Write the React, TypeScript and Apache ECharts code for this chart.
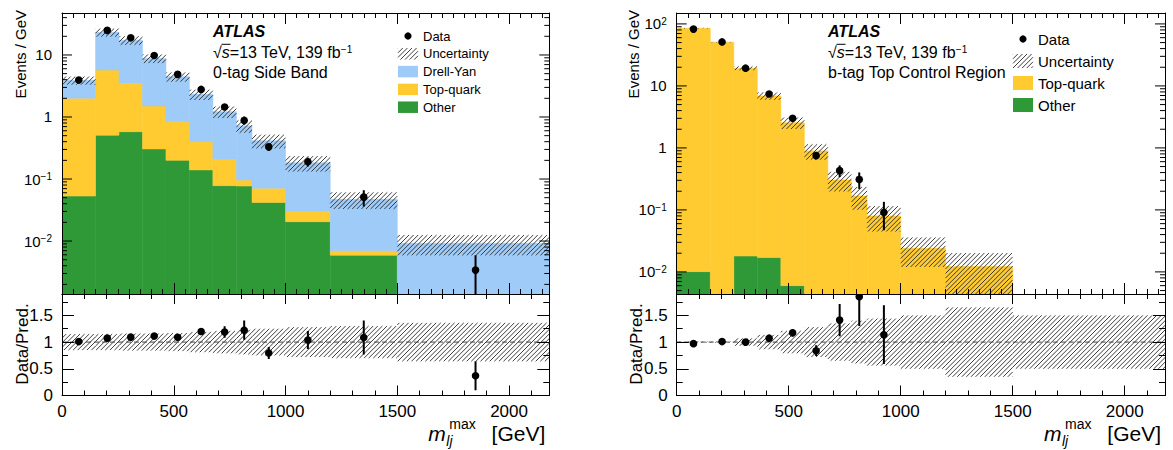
import React, { useEffect, useRef } from 'react';
import * as echarts from 'echarts';

// ---------------- data ----------------
const binEdges = [0, 150, 255, 360, 465, 570, 675, 780, 850, 1000, 1200, 1500, 2200];
const xTickLabels = ['0', '500', '1000', '1500', '2000'];
const ratioTickLabels = ['0', '0.5', '1', '1.5'];

// 0-tag Side Band (left panel), Events / GeV
const sbOther = [0.053, 0.51, 0.58, 0.305, 0.2, 0.14, 0.078, 0.077, 0.042, 0.0205, 0.0059, 0.0005];
const sbTopQuark = [1.95, 5.19, 2.92, 1.2, 0.64, 0.26, 0.132, 0.019, 0.029, 0.0095, 0.0011, 0.0003];
const sbDrellYan = [1.9, 17.5, 13.8, 7.3, 3.63, 1.92, 1.01, 0.624, 0.344, 0.153, 0.04, 0.0084];
const sbData = [3.94, 24.9, 18.9, 9.8, 4.87, 2.78, 1.45, 0.88, 0.33, 0.19, 0.051, 0.0034];
const sbDataErr = [0.08, 0.46, 0.52, 0.26, 0.18, 0.14, 0.13, 0.13, 0.046, 0.031, 0.015, 0.0025];
const sbUncert = [0.15, 0.15, 0.16, 0.16, 0.17, 0.19, 0.21, 0.23, 0.25, 0.28, 0.3, 0.36];
const sbLegend = ['Data', 'Uncertainty', 'Drell-Yan', 'Top-quark', 'Other'];

// b-tag Top Control Region (right panel), Events / GeV
const crOther = [0.0101, 0.001, 0.018, 0.017, 0.006, 0.0008, 0.0006, 0.0005, 0.0004, 0.0003, 0.0002, 0];
const crTopQuark = [85.0, 50.7, 19.3, 6.88, 2.55, 0.894, 0.304, 0.167, 0.0796, 0.0237, 0.012, 0];
const crData = [82.5, 51.2, 19.3, 7.4, 3.0, 0.75, 0.43, 0.31, 0.091, null, null, null];
const crDataErr = [0.85, 1.0, 0.58, 0.35, 0.18, 0.09, 0.092, 0.092, 0.044, 0, 0, 0];
const crUncert = [0.01, 0.01, 0.07, 0.135, 0.21, 0.28, 0.35, 0.4, 0.44, 0.5, 0.65, 0.5];
const crLegend = ['Data', 'Uncertainty', 'Top-quark', 'Other'];

// ---------------- style / layout ----------------
const FONT = '"Liberation Sans", Arial, Helvetica, sans-serif';
const C_DY = '#9ecbf7';
const C_TOP = '#ffcb30';
const C_OTHER = '#2f9938';
const X_MAX = 2180;
const MAIN_TOP = 13;
const MAIN_H = 281;
const RATIO_TOP = 294;
const RATIO_H = 101.5;
const RATIO_MAX = 1.9;

type Proc = { name: string; color: string; values: number[] };
type Panel = {
  left: number;
  width: number;
  yMin: number;
  yMax: number;
  procs: Proc[];
  data: (number | null)[];
  dataErr: number[];
  unc: number[];
  region: string;
  textX: number;
  legend: string[];
  legendColors: Record<string, string>;
  leg: { boxX: number; textX: number; y0: number; dy: number; boxH: number; font: number };
  yTitleX: number;
  ratioTitleX: number;
};

const PANELS: Panel[] = [
  {
    left: 62,
    width: 487.3,
    yMin: 0.0014,
    yMax: 47.5,
    procs: [
      { name: 'Other', color: C_OTHER, values: sbOther },
      { name: 'Top-quark', color: C_TOP, values: sbTopQuark },
      { name: 'Drell-Yan', color: C_DY, values: sbDrellYan },
    ],
    data: sbData,
    dataErr: sbDataErr,
    unc: sbUncert,
    region: '0-tag Side Band',
    textX: 213,
    legend: sbLegend,
    legendColors: { 'Drell-Yan': C_DY, 'Top-quark': C_TOP, Other: C_OTHER },
    leg: { boxX: 398, textX: 423, y0: 36, dy: 17.8, boxH: 11.5, font: 13 },
    yTitleX: 20,
    ratioTitleX: 22,
  },
  {
    left: 676.7,
    width: 488.3,
    yMin: 0.0044,
    yMax: 150,
    procs: [
      { name: 'Other', color: C_OTHER, values: crOther },
      { name: 'Top-quark', color: C_TOP, values: crTopQuark },
    ],
    data: crData,
    dataErr: crDataErr,
    unc: crUncert,
    region: 'b-tag Top Control Region',
    textX: 828,
    legend: crLegend,
    legendColors: { 'Top-quark': C_TOP, Other: C_OTHER },
    leg: { boxX: 1013, textX: 1038, y0: 39, dy: 22, boxH: 14, font: 15 },
    yTitleX: 633,
    ratioTitleX: 636,
  },
];

const BLACK = { color: '#000', width: 1 };

function hatchLines(x0: number, y0: number, x1: number, y1: number, s: number, style: any) {
  const out: any[] = [];
  const cStart = Math.ceil((x0 + y0) / s) * s;
  for (let c = cStart; c <= x1 + y1; c += s) {
    const xa = Math.max(x0, c - y1);
    const xb = Math.min(x1, c - y0);
    if (xb > xa) out.push({ type: 'line', shape: { x1: xa, y1: c - xa, x2: xb, y2: c - xb }, style });
  }
  return out;
}

const HATCH_STYLE = { stroke: '#333', lineWidth: 0.95 };

function rectSeries(xi: number, yi: number, items: number[][], color: string, z: number) {
  return {
    type: 'custom',
    xAxisIndex: xi,
    yAxisIndex: yi,
    clip: true,
    silent: true,
    z,
    encode: { x: [0, 1], y: [2, 3] },
    data: items,
    renderItem: (_p: any, api: any) => {
      const a = api.coord([api.value(0), api.value(3)]);
      const b = api.coord([api.value(1), api.value(2)]);
      return {
        type: 'rect',
        shape: { x: a[0], y: a[1], width: b[0] - a[0], height: b[1] - a[1] },
        style: { fill: color, stroke: color, lineWidth: 0.5 },
      };
    },
  };
}

function hatchSeries(xi: number, yi: number, items: number[][]) {
  return {
    type: 'custom',
    xAxisIndex: xi,
    yAxisIndex: yi,
    clip: true,
    silent: true,
    z: 3,
    encode: { x: [0, 1], y: [2, 3] },
    data: items,
    renderItem: (_p: any, api: any) => {
      const a = api.coord([api.value(0), api.value(3)]);
      const b = api.coord([api.value(1), api.value(2)]);
      return { type: 'group', children: hatchLines(a[0], a[1], b[0], b[1], 4.6, HATCH_STYLE) };
    },
  };
}

function pointSeries(xi: number, yi: number, items: number[][], floor: number) {
  return {
    type: 'custom',
    xAxisIndex: xi,
    yAxisIndex: yi,
    clip: true,
    silent: true,
    z: 5,
    encode: { x: 0, y: 1 },
    data: items,
    renderItem: (_p: any, api: any) => {
      const x = api.value(0);
      const v = api.value(1);
      const e = api.value(2);
      const c = api.coord([x, v]);
      const t = api.coord([x, v + e]);
      const lo = v - e > floor ? v - e : floor;
      const b = api.coord([x, lo]);
      return {
        type: 'group',
        children: [
          { type: 'line', shape: { x1: c[0], y1: t[1], x2: c[0], y2: b[1] }, style: { stroke: '#000', lineWidth: 2 } },
          { type: 'circle', shape: { cx: c[0], cy: c[1], r: 3.8 }, style: { fill: '#000' } },
        ],
      };
    },
  };
}

function logTickSeries(xi: number, yi: number, yMin: number, yMax: number) {
  const items: number[][] = [];
  for (let n = Math.floor(Math.log10(yMin)); n <= Math.ceil(Math.log10(yMax)); n++) {
    for (let k = 1; k <= 9; k++) {
      const v = k * Math.pow(10, n);
      if (v > yMin && v < yMax) items.push([0, v, k === 1 ? 1 : 0]);
    }
  }
  return {
    type: 'custom',
    xAxisIndex: xi,
    yAxisIndex: yi,
    clip: false,
    silent: true,
    z: 6,
    encode: { x: 0, y: 1 },
    data: items,
    renderItem: (_p: any, api: any) => {
      const v = api.value(1);
      const len = api.value(2) === 1 ? 10 : 5;
      const l = api.coord([0, v]);
      const r = api.coord([X_MAX, v]);
      const st = { stroke: '#000', lineWidth: 1 };
      return {
        type: 'group',
        children: [
          { type: 'line', shape: { x1: l[0], y1: l[1], x2: l[0] + len, y2: l[1] }, style: st },
          { type: 'line', shape: { x1: r[0], y1: r[1], x2: r[0] - len, y2: r[1] }, style: st },
        ],
      };
    },
  };
}

function logLabel(v: number) {
  const lg = Math.log10(v);
  const e = Math.round(lg);
  if (Math.abs(lg - e) > 1e-6) return '';
  if (e === 0) return '1';
  if (e === 1) return '10';
  return '10{s|' + (e < 0 ? '\u2212' : '') + Math.abs(e) + '}';
}

function xLabel(v: number) {
  const s = String(Math.round(v));
  return xTickLabels.includes(s) && Math.abs(v - Math.round(v)) < 1e-6 ? s : '';
}

function ratioLabel(v: number) {
  const s = String(Math.round(v * 100) / 100);
  return ratioTickLabels.includes(s) ? s : '';
}

function buildOption() {
  const grid: any[] = [];
  const xAxis: any[] = [];
  const yAxis: any[] = [];
  const series: any[] = [];
  const graphic: any[] = [];

  PANELS.forEach((p, i) => {
    const gMain = 2 * i;
    const gRatio = 2 * i + 1;
    grid.push({ left: p.left, top: MAIN_TOP, width: p.width, height: MAIN_H, show: false, containLabel: false, outerBoundsMode: 'none' });
    grid.push({ left: p.left, top: RATIO_TOP, width: p.width, height: RATIO_H, show: false, containLabel: false, outerBoundsMode: 'none' });

    const xBase = {
      type: 'value',
      min: 0,
      max: X_MAX,
      interval: 500,
      z: 10,
      splitLine: { show: false },
      axisLine: { show: true, onZero: false, lineStyle: BLACK },
    };
    const mainTicks = {
      axisLabel: { show: false },
      axisTick: { show: true, inside: true, length: 11, lineStyle: BLACK },
      minorTick: { show: true, splitNumber: 10, length: 5, lineStyle: BLACK },
    };
    const ratioTicksX = {
      axisTick: { show: true, inside: true, length: 10, lineStyle: BLACK },
      minorTick: { show: true, splitNumber: 5, length: 5, lineStyle: BLACK },
    };
    xAxis.push({ ...xBase, ...mainTicks, gridIndex: gMain, position: 'bottom' });
    xAxis.push({ ...xBase, ...mainTicks, gridIndex: gMain, position: 'top' });
    xAxis.push({
      ...xBase,
      ...ratioTicksX,
      gridIndex: gRatio,
      position: 'bottom',
      axisLabel: { show: true, formatter: xLabel, color: '#000', fontSize: 17, fontFamily: FONT, margin: 7 },
    });
    xAxis.push({ ...xBase, ...ratioTicksX, gridIndex: gRatio, position: 'top', axisLabel: { show: false } });

    const yLogBase = {
      type: 'log',
      logBase: 10,
      min: p.yMin,
      max: p.yMax,
      z: 10,
      splitLine: { show: false },
      axisTick: { show: false },
      minorTick: { show: false },
      axisLine: { show: true, onZero: false, lineStyle: BLACK },
    };
    yAxis.push({
      ...yLogBase,
      gridIndex: gMain,
      position: 'left',
      axisLabel: {
        show: true,
        formatter: logLabel,
        color: '#000',
        fontSize: 15,
        fontFamily: FONT,
        margin: 10,
        showMinLabel: false,
        showMaxLabel: false,
        rich: { s: { fontSize: 10, fontFamily: FONT, color: '#000', verticalAlign: 'top', lineHeight: 10 } },
      },
    });
    yAxis.push({ ...yLogBase, gridIndex: gMain, position: 'right', axisLabel: { show: false } });
    const yRatioBase = {
      type: 'value',
      min: 0,
      max: RATIO_MAX,
      interval: 0.5,
      z: 10,
      splitLine: { show: false },
      axisLine: { show: true, onZero: false, lineStyle: BLACK },
      axisTick: { show: true, inside: true, length: 12, lineStyle: BLACK },
      minorTick: { show: true, splitNumber: 2, length: 6, lineStyle: BLACK },
    };
    yAxis.push({
      ...yRatioBase,
      gridIndex: gRatio,
      position: 'left',
      axisLabel: { show: true, formatter: ratioLabel, color: '#000', fontSize: 17, fontFamily: FONT, margin: 9 },
    });
    yAxis.push({ ...yRatioBase, gridIndex: gRatio, position: 'right', axisLabel: { show: false } });

    const xiMain = 4 * i;
    const yiMain = 4 * i;
    const xiRatio = 4 * i + 2;
    const yiRatio = 4 * i + 2;

    // stacked histogram
    const nb = binEdges.length - 1;
    const cum = new Array(nb).fill(0);
    p.procs.forEach((proc) => {
      const items: number[][] = [];
      for (let b = 0; b < nb; b++) {
        const v = proc.values[b];
        if (v > 0) {
          const lo = cum[b] > 0 ? cum[b] : p.yMin;
          items.push([binEdges[b], binEdges[b + 1], lo, cum[b] + v]);
          cum[b] += v;
        }
      }
      series.push(rectSeries(xiMain, yiMain, items, proc.color, 2));
    });
    const total = cum;

    // uncertainty bands
    const band: number[][] = [];
    const rband: number[][] = [];
    const pts: number[][] = [];
    const rpts: number[][] = [];
    for (let b = 0; b < nb; b++) {
      const u = p.unc[b];
      if (total[b] > 0) band.push([binEdges[b], binEdges[b + 1], total[b] * (1 - u), total[b] * (1 + u)]);
      rband.push([binEdges[b], binEdges[b + 1], 1 - u, 1 + u]);
      const d = p.data[b];
      const xc = (binEdges[b] + binEdges[b + 1]) / 2;
      if (d != null && d > 0) {
        pts.push([xc, d, p.dataErr[b]]);
        if (total[b] > 0) rpts.push([xc, d / total[b], p.dataErr[b] / total[b]]);
      }
    }
    series.push(hatchSeries(xiMain, yiMain, band));
    series.push(pointSeries(xiMain, yiMain, pts, p.yMin / 10));
    series.push(logTickSeries(xiMain, yiMain, p.yMin, p.yMax));

    // ratio
    series.push(hatchSeries(xiRatio, yiRatio, rband));
    series.push({
      type: 'line',
      xAxisIndex: xiRatio,
      yAxisIndex: yiRatio,
      silent: true,
      z: 4,
      symbol: 'none',
      data: [
        [0, 1],
        [X_MAX, 1],
      ],
      lineStyle: { color: '#444', width: 1, type: [5, 3] },
    });
    series.push(pointSeries(xiRatio, yiRatio, rpts, -1));

    // ----- texts -----
    const T = (x: number, y: number, text: string, extra: any = {}, el: any = {}) => ({
      type: 'text',
      x,
      y,
      z: 100,
      ...el,
      style: {
        text,
        fill: '#000',
        fontFamily: FONT,
        fontSize: 16,
        align: 'left',
        textAlign: 'left',
        verticalAlign: 'middle',
        textVerticalAlign: 'middle',
        ...extra,
      },
    });
    graphic.push(T(p.textX, 31, 'ATLAS', { fontWeight: 'bold', fontStyle: 'italic' }));
    graphic.push(
      T(p.textX, 52, '\u221a{i|s}=13 TeV, 139 fb{s|\u22121}', {
        rich: {
          i: { fontStyle: 'italic', fontSize: 16, fontFamily: FONT, color: '#000' },
          s: { fontSize: 10, fontFamily: FONT, color: '#000', verticalAlign: 'top', lineHeight: 10 },
        },
      })
    );
    graphic.push({
      type: 'line',
      z: 100,
      shape: { x1: p.textX + 8.5, y1: 44.3, x2: p.textX + 17.5, y2: 44.3 },
      style: { stroke: '#000', lineWidth: 1 },
    });
    graphic.push(T(p.textX, 72, p.region));

    // legend
    const L = p.leg;
    p.legend.forEach((name, k) => {
      const y = L.y0 + k * L.dy;
      graphic.push(T(L.textX, y, name, { fontSize: L.font }));
      if (name === 'Data') {
        graphic.push({ type: 'circle', z: 100, shape: { cx: L.boxX + 10, cy: y, r: 3.6 }, style: { fill: '#000' } });
      } else if (name === 'Uncertainty') {
        graphic.push({
          type: 'group',
          z: 100,
          children: hatchLines(L.boxX, y - L.boxH / 2, L.boxX + 20, y + L.boxH / 2, 4.6, HATCH_STYLE),
        });
      } else {
        graphic.push({
          type: 'rect',
          z: 100,
          shape: { x: L.boxX, y: y - L.boxH / 2, width: 20, height: L.boxH },
          style: { fill: p.legendColors[name] },
        });
      }
    });

    // axis titles
    graphic.push(
      T(p.yTitleX, 10, 'Events / GeV', { fontSize: 15, align: 'right', textAlign: 'right' }, { rotation: Math.PI / 2 })
    );
    graphic.push(
      T(p.ratioTitleX, 344, 'Data/Pred.', { fontSize: 17, align: 'center', textAlign: 'center' }, { rotation: Math.PI / 2 })
    );
    const R = p.left + p.width;
    graphic.push(T(R - 4, 433, '[GeV]', { fontSize: 21, align: 'right', textAlign: 'right' }));
    graphic.push(T(R - 103.5, 433, 'm', { fontSize: 21, fontStyle: 'italic', align: 'right', textAlign: 'right' }));
    graphic.push(T(R - 103, 441, 'lj', { fontSize: 14, fontStyle: 'italic' }));
    graphic.push(T(R - 100, 424, 'max', { fontSize: 14 }));
  });

  return {
    animation: false,
    backgroundColor: '#fff',
    grid,
    xAxis,
    yAxis,
    series,
    graphic: { elements: graphic },
  };
}

export default function App() {
  const ref = useRef<HTMLDivElement>(null);
  useEffect(() => {
    if (!ref.current) return;
    const chart = echarts.init(ref.current, null, { renderer: 'svg' });
    chart.setOption(buildOption() as any);
    return () => chart.dispose();
  }, []);
  return (
    <div
      ref={ref}
      style={{ position: 'fixed', left: 0, top: 0, width: 1173, height: 450, background: '#fff' }}
    />
  );
}
